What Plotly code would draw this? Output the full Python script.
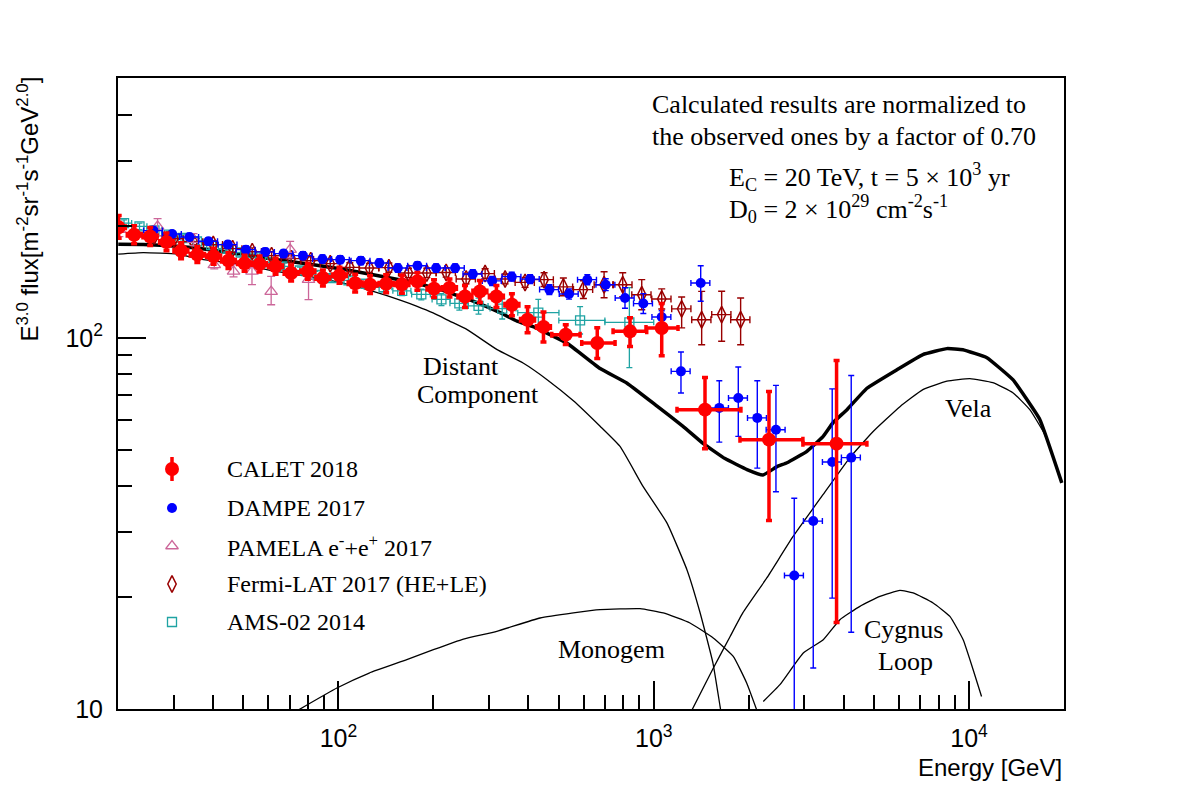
import math
import plotly.graph_objects as go

# ---------------- data ----------------
calet_E = [20.1, 22.5, 25.3, 28.5, 31.7, 35.7, 40.2, 44.8, 50.4, 56.2, 63.2, 70.8, 80.0, 89.3, 100.8,
           113, 126, 141.7, 159, 178, 201, 225, 252, 281, 317, 355, 398, 447, 526, 662, 841, 1060,
           1454, 2320, 3800]
calet_F = [198.7, 189.8, 187.8, 181.5, 171.9, 167.7, 166.0, 161.6, 158.9, 158.3, 156.0, 149.7, 151.2,
           145.1, 147.5, 140.5, 139.2, 140.0, 139.5, 142.1, 135.8, 136.4, 129.4, 133.5, 129.4, 122.9,
           112.0, 107.1, 102.1, 96.9, 104.2, 106.4, 64.1, 53.2, 51.9]
calet_F_up = [15.3, 10.9, 10.8, 10.4, 8.8, 8.6, 8.5, 8.2, 8.1, 8.1, 8.0, 7.6, 7.7, 7.4, 7.5, 8.0, 8.0,
              8.0, 8.0, 8.1, 7.7, 7.8, 9.2, 9.4, 9.2, 8.7, 9.4, 10.4, 6.5, 9.6, 9.1, 17.4, 14.1, 18.5, 35.0]
calet_F_dn = [13.1, 10.3, 10.2, 9.8, 8.3, 8.0, 8.0, 7.8, 7.6, 7.6, 7.5, 7.2, 7.3, 7.0, 7.1, 7.5, 7.5,
              7.5, 7.5, 7.7, 7.3, 7.4, 8.5, 8.8, 8.5, 8.1, 8.7, 9.5, 6.1, 8.8, 9.4, 16.8, 13.8, 21.0, 34.8]
calet_E_up = [1.0, 1.2, 1.3, 1.5, 1.6, 1.9, 2.1, 2.3, 2.6, 2.9, 3.3, 3.7, 4.2, 4.6, 5.2, 5.9, 6.6, 7.4,
              8.3, 9.3, 10.5, 11.7, 13.1, 14.6, 16.5, 18.5, 20.7, 23.2, 58, 92, 109, 134, 436, 652, 942]
calet_E_dn = [1.0, 1.1, 1.3, 1.4, 1.6, 1.8, 2.0, 2.2, 2.5, 2.8, 3.2, 3.5, 4.0, 4.5, 5.0, 5.6, 6.3, 7.1,
              8.0, 8.9, 10.0, 11.2, 12.6, 14.0, 15.8, 17.7, 19.9, 22.3, 51, 71, 98, 115, 269, 443, 828]

dampe_E = [25.9, 29.7, 33.7, 38.7, 44.6, 50.9, 58.6, 67.0, 77.2, 89.0, 101.3, 117.8, 134.9, 154.3,
           178.1, 204.1, 234.5, 266.8, 307.2, 354.6, 405.4, 466.7, 538.8, 615.7, 704.3, 810.6, 926.7,
           1060, 1220, 1409, 1614, 1854, 2130, 2441, 2790, 3205, 3681, 4229]
dampe_F = [194.7, 190.7, 187.2, 182.2, 178.5, 173.0, 170.6, 168.8, 166.7, 163.3, 162.6, 161.6, 159.3,
           154.4, 156.6, 154.4, 154.4, 148.8, 142.5, 146.3, 144.1, 135.0, 131.4, 143.6, 139.2, 128.2,
           123.8, 113.9, 81.3, 140.7, 64.8, 68.9, 60.9, 56.6, 22.9, 32.1, 46.3, 47.6]
dampe_F_up = [4.0, 4.0, 4.0, 4.0, 4.0, 4.0, 4.0, 4.0, 4.0, 4.0, 4.0, 4.0, 4.0, 4.0, 4.0, 4.0, 4.0, 4.0,
              4.0, 4.0, 4.0, 4.2, 4.2, 4.5, 5.2, 8.4, 7.9, 4.5, 10.4, 15.9, 11.9, 14.6, 15.8, 17.9,
              14.1, 19.5, 26.6, 31.6]
dampe_F_dn = [4.0, 4.0, 4.0, 4.0, 4.0, 4.0, 4.0, 4.0, 4.0, 4.0, 4.0, 4.0, 4.0, 4.0, 4.0, 4.0, 4.0, 4.0,
              4.0, 4.0, 4.0, 4.1, 4.1, 4.4, 5.0, 7.9, 7.4, 4.3, 10.2, 15.1, 12.4, 14.6, 16.3, 18.1,
              20.5, 19.2, 26.4, 31.5]
dampe_E_err_pct = 6.9

pamela_E = [20.2, 26.7, 34.7, 40.4, 46.5, 53.2, 61.2, 70.3, 80.4]
pamela_F = [195.9, 199.9, 184.1, 157.5, 151.2, 151.2, 133.3, 173.0, 143.6]
pamela_F_up = [8.9, 9.8, 7.0, 4.9, 6.4, 6.4, 13.3, 9.2, 4.5]
pamela_F_dn = [8.4, 11.2, 6.7, 4.0, 5.0, 12.0, 10.4, 8.7, 16.8]

fermi_E = [26.1, 30.1, 34.7, 40.1, 46.2, 53.3, 61.4, 70.8, 81.7, 94.2, 108.7, 125.4, 144.6, 166.8,
           190.7, 219.6, 254.1, 291.9, 337.8, 390.8, 449.0, 516.9, 598.3, 695.9, 797.3, 916.1, 1060,
           1226, 1419, 1642, 1886]
fermi_F = [188.7, 185.2, 181.8, 178.5, 174.1, 170.9, 166.7, 163.6, 161.6, 158.6, 155.0, 154.4, 154.7,
           149.7, 149.7, 150.2, 144.2, 149.1, 144.2, 141.2, 143.6, 137.3, 135.0, 139.2, 139.2, 130.8,
           127.4, 119.8, 112.0, 115.6, 112.0]
fermi_F_up = [4, 4, 4, 4, 4, 4, 4, 4, 4, 4, 4.5, 4.5, 4.5, 4.5, 4.5, 4.5, 4.5, 4.5, 4.5, 4.5,
              6.3, 7.8, 7.7, 11.7, 10.7, 12.8, 8.2, 9.2, 21.5, 18.0, 16.1]
fermi_F_dn = [4, 4, 4, 4, 4, 4, 4, 4, 4, 4, 4.3, 4.3, 4.3, 4.3, 4.3, 4.3, 4.3, 4.3, 4.3, 4.3,
              6.0, 7.3, 7.2, 10.8, 10.0, 11.6, 7.7, 13.3, 16.1, 17.6, 16.1]
fermi_E_err_pct = 7.0

ams_E = [20.9, 23.4, 26.1, 29.0, 32.1, 35.6, 39.5, 44.0, 49.0, 54.5, 60.6, 67.5, 75.5, 84.6, 95.1,
         107.6, 122.2, 139.1, 159.3, 183.2, 212.2, 241.8, 278.2, 330.7, 430.5, 584.0, 837.0]
ams_F = [204, 200, 195, 190, 186, 182, 178, 174, 170, 165, 160, 156, 152, 148, 145, 143, 140, 137,
         134, 131, 127, 124, 122, 120, 117, 111.5, 110.2]
ams_F_up = [4, 4, 4, 3.8, 3.7, 3.6, 3.5, 3.5, 3.4, 3.3, 3.2, 3.2, 3.2, 3.2, 3.3, 3.4, 3.6, 3.8, 4.0,
            4.3, 4.7, 5.2, 6.0, 7.5, 10.0, 10.0, 26.4]
ams_F_dn = [4, 4, 4, 3.8, 3.7, 3.6, 3.5, 3.5, 3.4, 3.3, 3.2, 3.2, 3.2, 3.2, 3.3, 3.4, 3.6, 3.8, 4.0,
            4.3, 4.7, 5.2, 6.0, 7.5, 9.5, 9.0, 27.0]
ams_E_up = [1.2, 1.3, 1.4, 1.5, 1.7, 1.9, 2.1, 2.4, 2.6, 2.9, 3.3, 3.7, 4.2, 4.7, 5.6, 6.6, 7.5, 8.7,
            10.5, 12.5, 14.0, 16.0, 20.0, 35.0, 70.0, 116.0, 163.0]
ams_E_dn = [1.2, 1.3, 1.4, 1.5, 1.7, 1.9, 2.1, 2.4, 2.6, 2.9, 3.3, 3.7, 4.2, 4.7, 5.6, 6.6, 7.5, 8.7,
            10.5, 12.5, 14.0, 16.0, 20.0, 28.0, 60.0, 84.0, 137.0]

total_E = [20.04, 24.06, 30.83, 39.24, 49.9, 63.97, 81.4, 103.6, 128.9, 165.2, 210.2, 267.5, 325.7,
           368.7, 414.5, 531.2, 675.9, 823.0, 1024.5, 1238.5, 1433, 1683, 1976, 2220, 2459, 2646,
           3061, 3441, 3701, 4101, 4744, 5904, 7137, 8504, 9556, 11390, 13768, 16760, 19679]
total_F = [179.0, 178.5, 176.8, 173.0, 167.7, 162.6, 158.1, 153.2, 148.1, 142.2, 135.0, 125.7, 117.0,
           111.0, 107.3, 96.8, 82.7, 75.5, 65.5, 57.8, 52.0, 47.3, 44.2, 42.7, 45.0, 46.1, 49.5, 54.2,
           59.1, 64.1, 73.2, 82.1, 90.2, 93.6, 93.0, 88.5, 77.2, 60.3, 40.7]

distant_E = [20.04, 24.06, 30.83, 37.3, 49.9, 63.97, 81.4, 103.6, 128.9, 157.0, 177.7, 199.7, 226.1,
             256.0, 318.7, 385.2, 459.1, 554.9, 675.9, 781.8, 924.7, 1102, 1275, 1402, 1541, 1622, 1680]
distant_F = [168.2, 169.8, 168.2, 162.6, 157.6, 150.9, 146.3, 140.5, 133.5, 126.5, 121.7, 116.8, 110.9,
             105.3, 93.0, 85.6, 77.2, 67.8, 57.8, 51.0, 39.8, 31.7, 23.7, 18.2, 13.3, 10.2, 8.5]

monogem_E = [73.0, 98.9, 125.2, 164.8, 200.1, 249.1, 317.9, 436.0, 556.2, 675.9, 904.7, 1072, 1303,
             1544, 1787, 1971, 2172]
monogem_F = [9.83, 11.39, 12.5, 13.58, 14.45, 15.44, 16.19, 17.59, 18.15, 18.52, 18.64, 18.15, 17.05,
             15.54, 13.86, 11.75, 9.4]

vela_E = [1294, 1541, 1745, 1918, 2286, 2763, 3441, 4189, 4955, 6035, 7137, 8504, 10058, 11896,
          13768, 15580, 17384, 19679]
vela_F = [9.59, 12.84, 15.66, 18.18, 22.59, 29.13, 37.8, 47.6, 55.9, 65.3, 72.6, 76.5, 77.7, 75.8,
          71.2, 64.1, 54.9, 40.7]

cygnus_E = [2225, 2513, 2980, 3448, 3894, 4506, 5214, 6035, 6647, 7691, 8693, 9577, 10302, 10953]
cygnus_F = [10.48, 11.63, 14.16, 15.37, 17.41, 18.91, 20.12, 20.88, 20.55, 19.31, 17.77, 15.37, 12.76,
            10.81]

x_major = [100, 1000, 10000]
x_major_text = ["10<sup>2</sup>", "10<sup>3</sup>", "10<sup>4</sup>"]
x_minor = [30, 40, 50, 60, 70, 80, 90, 200, 300, 400, 500, 600, 700, 800, 900,
           2000, 3000, 4000, 5000, 6000, 7000, 8000, 9000]
y_major = [10, 100]
y_major_text = ["10", "10<sup>2</sup>"]
y_minor = [20, 30, 40, 50, 60, 70, 80, 90, 200, 300, 400]

legend_names = ["CALET 2018", "DAMPE 2017", "PAMELA e<sup>-</sup>+e<sup>+</sup> 2017",
                "Fermi-LAT 2017 (HE+LE)", "AMS-02 2014"]

# ---------------- styles / layout ----------------
W, H = 1182, 790
ML, MR, MT, MB = 118, 118, 78, 81
PW, PH = W - ML - MR, H - MT - MB


def fx(px):
    return (px - ML) / PW


def fy(py):
    return (H - MB - py) / PH


SERIF = "Liberation Serif"
SANS = "Liberation Sans"
RED = "#FF0000"
BLUE = "#0000FF"
PINK = "#CC6699"
DRED = "#990000"
TEAL = "#1FA3A3"

fig = go.Figure()

thin = dict(color="black", width=1.3, shape="spline", smoothing=0.4)
for ex, fl in [(distant_E, distant_F), (monogem_E, monogem_F), (vela_E, vela_F), (cygnus_E, cygnus_F)]:
    fig.add_trace(go.Scatter(x=ex, y=fl, mode="lines", line=thin, showlegend=False, hoverinfo="skip"))
fig.add_trace(go.Scatter(x=total_E, y=total_F, mode="lines",
                         line=dict(color="black", width=3.5, shape="spline", smoothing=0.3),
                         showlegend=False, hoverinfo="skip"))

# AMS-02
fig.add_trace(go.Scatter(
    x=ams_E, y=ams_F, mode="markers",
    marker=dict(symbol="square-open", size=9, color=TEAL, line=dict(width=1.3, color=TEAL)),
    error_y=dict(type="data", symmetric=False, array=ams_F_up, arrayminus=ams_F_dn,
                 color=TEAL, thickness=1.3, width=3),
    error_x=dict(type="data", symmetric=False, array=ams_E_up, arrayminus=ams_E_dn,
                 color=TEAL, thickness=1.3, width=3),
    showlegend=False))

# Fermi-LAT
fig.add_trace(go.Scatter(
    x=fermi_E, y=fermi_F, mode="markers",
    marker=dict(symbol="diamond-tall-open", size=12, color=DRED, line=dict(width=1.5, color=DRED)),
    error_y=dict(type="data", symmetric=False, array=fermi_F_up, arrayminus=fermi_F_dn,
                 color=DRED, thickness=1.4, width=3.5),
    error_x=dict(type="percent", value=fermi_E_err_pct, color=DRED, thickness=1.4, width=3.5),
    showlegend=False))

# PAMELA
fig.add_trace(go.Scatter(
    x=pamela_E, y=pamela_F, mode="markers",
    marker=dict(symbol="triangle-up-open", size=11, color=PINK, line=dict(width=1.3, color=PINK)),
    error_y=dict(type="data", symmetric=False, array=pamela_F_up, arrayminus=pamela_F_dn,
                 color=PINK, thickness=1.3, width=4),
    showlegend=False))

# DAMPE
fig.add_trace(go.Scatter(
    x=dampe_E, y=dampe_F, mode="markers",
    marker=dict(symbol="circle", size=10, color=BLUE),
    error_y=dict(type="data", symmetric=False, array=dampe_F_up, arrayminus=dampe_F_dn,
                 color=BLUE, thickness=1.4, width=3),
    error_x=dict(type="percent", value=dampe_E_err_pct, color=BLUE, thickness=1.4, width=3),
    showlegend=False))

# CALET
fig.add_trace(go.Scatter(
    x=calet_E, y=calet_F, mode="markers",
    marker=dict(symbol="circle", size=14, color=RED),
    error_y=dict(type="data", symmetric=False, array=calet_F_up, arrayminus=calet_F_dn,
                 color=RED, thickness=3.5, width=3),
    error_x=dict(type="data", symmetric=False, array=calet_E_up, arrayminus=calet_E_dn,
                 color=RED, thickness=3.5, width=3),
    showlegend=False))

# ---------------- manual legend (overlay axes in plot-fraction units) ----------------
leg_rows_px = [469, 508, 546, 584, 622]
leg_sym_x = fx(172)
leg_styles = [
    dict(symbol="circle", size=14, color=RED),
    dict(symbol="circle", size=10, color=BLUE),
    dict(symbol="triangle-up-open", size=11, color=PINK, line=dict(width=1.3, color=PINK)),
    dict(symbol="diamond-tall-open", size=12, color=DRED, line=dict(width=1.5, color=DRED)),
    dict(symbol="square-open", size=9, color=TEAL, line=dict(width=1.3, color=TEAL)),
]
for i, (rowy, st) in enumerate(zip(leg_rows_px, leg_styles)):
    kw = {}
    if i == 0:
        kw["error_y"] = dict(type="constant", value=12 / PH, color=RED, thickness=3.5, width=0)
    fig.add_trace(go.Scatter(x=[leg_sym_x], y=[fy(rowy)], mode="markers", marker=st,
                             xaxis="x2", yaxis="y2", showlegend=False, hoverinfo="skip", **kw))

annotations = []
for name, rowy in zip(legend_names, leg_rows_px):
    annotations.append(dict(text=name, x=fx(225), y=fy(rowy), xref="paper", yref="paper",
                            xanchor="left", yanchor="middle", showarrow=False,
                            font=dict(family=SERIF, size=24, color="black")))

texts = [
    ("Calculated results are normalized to", 650, 104, "left"),
    ("the observed ones by a factor of 0.70", 650, 136, "left"),
    ("E<sub>C</sub> = 20 TeV, t = 5 × 10<sup>3</sup> yr", 727, 177, "left"),
    ("D<sub>0</sub> = 2 × 10<sup>29</sup> cm<sup>-2</sup>s<sup>-1</sup>", 727, 209, "left"),
    ("Distant", 421, 366, "left"),
    ("Component", 415, 395, "left"),
    ("Monogem", 611, 649, "center"),
    ("Vela", 968, 408, "center"),
    ("Cygnus", 903, 629, "center"),
    ("Loop", 905, 661, "center"),
]
for t, xp, yp, anc in texts:
    annotations.append(dict(text=t, x=fx(xp), y=fy(yp), xref="paper", yref="paper",
                            xanchor=anc, yanchor="middle", showarrow=False,
                            font=dict(family=SERIF, size=26, color="black")))

annotations.append(dict(
    text="E<sup>3.0</sup> flux[m<sup>-2</sup>sr<sup>-1</sup>s<sup>-1</sup>GeV<sup>2.0</sup>]",
    x=fx(28), y=fy(75), xref="paper", yref="paper", xanchor="center", yanchor="top",
    textangle=-90, showarrow=False, font=dict(family=SANS, size=24, color="black")))
annotations.append(dict(
    text="Energy [GeV]", x=fx(1064), y=fy(767), xref="paper", yref="paper",
    xanchor="right", yanchor="middle", showarrow=False,
    font=dict(family=SANS, size=24, color="black")))

axis_common = dict(showgrid=False, zeroline=False, showline=True, linecolor="black", linewidth=2,
                   mirror=True, ticks="inside", ticklen=28, tickwidth=1.5, tickcolor="black",
                   tickfont=dict(family=SANS, size=25, color="black"))

fig.update_layout(
    width=W, height=H,
    margin=dict(l=ML, r=MR, t=MT, b=MB),
    paper_bgcolor="white", plot_bgcolor="white",
    showlegend=False,
    xaxis=dict(type="log", range=[math.log10(20), math.log10(20000)],
               tickmode="array", tickvals=x_major, ticktext=x_major_text,
               minor=dict(tickvals=x_minor, ticks="inside", ticklen=14, tickwidth=1.5,
                          tickcolor="black", showgrid=False),
               ticklabelstandoff=6, **axis_common),
    yaxis=dict(type="log", range=[1, math.log10(502)],
               tickmode="array", tickvals=y_major, ticktext=y_major_text,
               minor=dict(tickvals=y_minor, ticks="inside", ticklen=14, tickwidth=1.5,
                          tickcolor="black", showgrid=False),
               ticklabelstandoff=8, **axis_common),
    xaxis2=dict(overlaying="x", anchor="y", range=[0, 1], visible=False, fixedrange=True),
    yaxis2=dict(overlaying="y", anchor="x", range=[0, 1], visible=False, fixedrange=True),
    annotations=annotations,
)

fig.write_html("out.html")
